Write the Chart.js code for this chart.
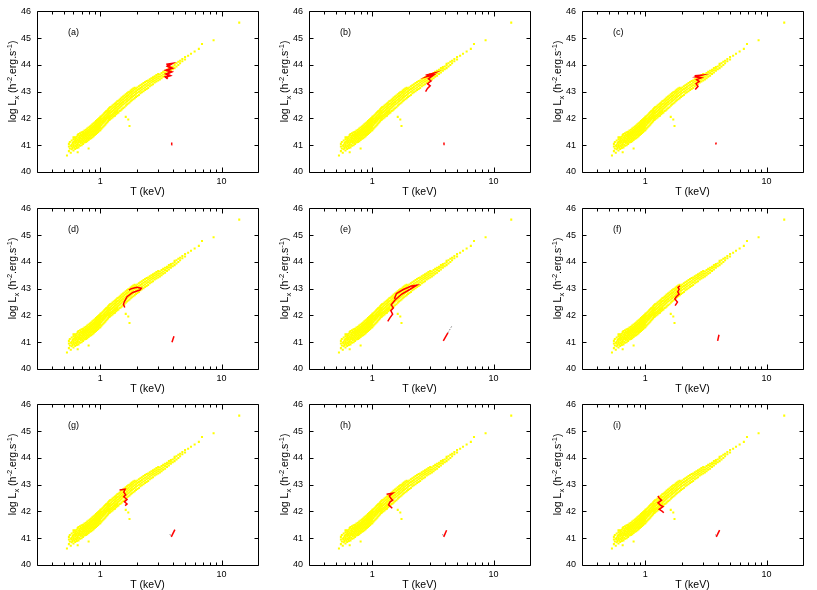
<!DOCTYPE html>
<html><head><meta charset="utf-8">
<script src="https://cdn.jsdelivr.net/npm/chart.js@4.4.1/dist/chart.umd.min.js"></script>
<style>
html,body{margin:0;padding:0;background:#fff;}
body{width:817px;height:590px;position:relative;overflow:hidden;}
.p{position:absolute;width:272px;height:197px;}
</style></head><body>
<script>
// ---- axis ticks ----
const xMajor = [1, 10];
const xMinor = [0.4,0.5,0.6,0.7,0.8,0.9,2,3,4,5,6,7,8,9];
const yTicks = [40,41,42,43,44,45,46];
const panelLabels = ['(a)','(b)','(c)','(d)','(e)','(f)','(g)','(h)','(i)'];

// ---- yellow cloud: [T, logL values...] ----
const cloudRows = [
[0.53,40.62],
[0.55,40.78,40.95,41.05],
[0.56,40.88,41.12],
[0.57,40.72,40.98],
[0.58,40.85,41.02,41.18,40.95],
[0.59,41.08,40.9],
[0.60,40.8,40.97,41.12,41.22,41.04,41.3],
[0.61,40.92,41.15,41.28],
[0.62,40.86,41.0,41.08,41.2,41.3],
[0.63,40.95,41.12,41.25],
[0.64,40.9,41.02,41.18,41.32,41.1],
[0.65,41.05,41.22,41.38,40.98,40.74],
[0.66,40.92,41.1,41.16,41.28,41.42],
[0.67,41.02,41.2,41.34],
[0.68,40.98,41.12,41.25,41.3,41.45],
[0.69,41.08,41.18,41.38],
[0.70,41.0,41.15,41.24,41.32,41.48,41.4],
[0.71,41.1,41.22,41.36],
[0.72,41.05,41.18,41.28,41.35,41.5,41.42],
[0.73,41.14,41.25,41.4],
[0.74,41.1,41.22,41.3,41.38,41.55,41.45],
[0.75,41.18,41.34,41.48],
[0.76,41.12,41.26,41.36,41.42,41.58,41.5],
[0.77,41.2,41.32,41.46],
[0.78,41.15,41.28,41.4,41.46,41.62,41.54],
[0.79,41.24,41.36,41.5],
[0.80,41.2,41.32,41.44,41.5,41.66,41.58,40.88],
[0.81,41.28,41.4,41.55],
[0.82,41.24,41.36,41.48,41.54,41.7,41.62],
[0.83,41.32,41.44,41.58],
[0.84,41.26,41.4,41.52,41.6,41.74,41.66],
[0.85,41.36,41.48,41.62],
[0.86,41.3,41.44,41.56,41.64,41.78,41.7],
[0.87,41.4,41.52,41.66],
[0.88,41.34,41.48,41.6,41.68,41.82,41.74],
[0.89,41.44,41.56,41.7],
[0.90,41.38,41.52,41.64,41.72,41.86,41.78],
[0.91,41.48,41.6,41.74],
[0.92,41.42,41.56,41.68,41.76,41.9,41.82],
[0.93,41.52,41.64,41.78],
[0.94,41.46,41.6,41.72,41.8,41.94,41.86],
[0.95,41.56,41.68,41.82],
[0.96,41.5,41.64,41.76,41.84,41.98,41.9],
[0.97,41.6,41.72,41.86],
[0.98,41.54,41.68,41.8,41.88,42.02,41.94],
[0.99,41.64,41.76,41.9],
[1.00,41.56,41.7,41.82,41.9,42.06,41.98],
[1.02,41.62,41.76,41.86,41.95,42.08,42.0],
[1.04,41.66,41.8,41.9,42.0,42.12,41.86],
[1.06,41.7,41.84,41.94,42.04,42.16,41.9],
[1.08,41.74,41.88,41.98,42.08,42.2,42.02],
[1.10,41.78,41.92,42.02,42.12,42.24,41.96],
[1.12,41.82,41.96,42.06,42.16,42.28,42.0],
[1.14,41.86,42.0,42.1,42.2,42.3,42.04],
[1.16,41.9,42.04,42.14,42.24,42.34,42.08],
[1.18,41.94,42.08,42.18,42.28,42.38,42.0],
[1.20,41.96,42.1,42.2,42.3,42.42,42.04],
[1.23,42.0,42.14,42.24,42.34,42.44,42.08],
[1.26,42.04,42.18,42.28,42.38,42.48,42.12],
[1.29,42.08,42.22,42.32,42.42,42.52,42.16],
[1.32,42.1,42.26,42.36,42.46,42.56,42.2],
[1.35,42.16,42.3,42.4,42.5,42.6,42.24],
[1.38,42.2,42.34,42.44,42.54,42.64,42.28],
[1.41,42.22,42.36,42.46,42.56,42.66],
[1.44,42.28,42.4,42.5,42.6,42.7],
[1.47,42.3,42.44,42.54,42.64,42.74],
[1.50,42.34,42.48,42.58,42.68,42.78],
[1.54,42.38,42.52,42.62,42.72,42.82],
[1.58,42.42,42.56,42.66,42.76,42.86],
[1.62,42.48,42.6,42.7,42.8,42.9,42.06],
[1.66,42.52,42.64,42.74,42.84,42.94],
[1.70,42.56,42.68,42.78,42.88,42.98,41.96],
[1.74,42.6,42.72,42.82,42.92,43.0,41.72],
[1.78,42.64,42.76,42.86,42.96,43.04],
[1.82,42.68,42.8,42.9,43.0,43.08],
[1.87,42.72,42.84,42.94,43.04,43.12],
[1.92,42.76,42.88,42.98,43.08,43.15],
[1.97,42.8,42.92,43.02,43.12],
[2.02,42.84,42.96,43.06,43.16],
[2.08,42.88,43.0,43.1,43.2],
[2.14,42.94,43.04,43.14,43.24],
[2.20,42.98,43.08,43.18,43.28],
[2.27,43.02,43.12,43.22,43.32],
[2.34,43.06,43.16,43.26,43.36],
[2.41,43.1,43.2,43.3,43.4],
[2.48,43.14,43.24,43.34,43.42],
[2.56,43.2,43.3,43.38,43.46],
[2.64,43.24,43.34,43.42,43.5],
[2.72,43.28,43.38,43.46,43.54],
[2.81,43.34,43.42,43.5,43.58],
[2.90,43.38,43.46,43.54,43.62],
[3.00,43.42,43.5,43.58,43.66],
[3.10,43.46,43.56,43.64],
[3.20,43.5,43.6,43.7],
[3.30,43.56,43.64,43.74],
[3.42,43.6,43.7,43.78],
[3.55,43.66,43.76,43.82],
[3.68,43.72,43.8,43.88],
[3.82,43.78,43.86,43.92],
[3.96,43.84,43.94],
[4.10,43.88,43.98,44.04],
[4.25,43.94,44.06],
[4.40,44.0,44.12],
[4.55,44.06,44.16],
[4.75,44.14,44.22],
[5.00,44.2,44.3],
[5.30,44.34],
[5.60,44.42],
[6.00,44.5],
[6.50,44.6],
[6.90,44.78],
[8.60,44.92],
[14.0,45.58]
];

// ---- red trajectories (T, logL) per panel ----
const redA = [[3.5,44.02],[3.9,44.05],[3.6,43.95],[3.9,43.88],[3.5,43.8],[3.85,43.74],[3.5,43.66],[3.75,43.6],[3.45,43.55],[3.6,43.48]];
const redB = [[2.75,43.62],[3.25,43.7],[2.8,43.56],[3.2,43.62],[2.9,43.48],[3.05,43.4],[2.85,43.3],[3.0,43.22],[2.85,43.12],[2.75,43.0]];
const redC = [[2.55,43.6],[2.95,43.62],[2.6,43.55],[2.9,43.52],[2.65,43.45],[2.78,43.38],[2.62,43.3],[2.72,43.2],[2.58,43.08]];
const redD = [[1.59,42.3],[1.55,42.42],[1.58,42.52],[1.66,42.7],[1.85,42.86],[2.12,42.95],[2.18,43.02],[2.0,43.05],[1.8,43.0],[1.72,42.95]];
const redE = [[1.34,41.78],[1.4,41.92],[1.47,42.05],[1.42,42.18],[1.49,42.28],[1.43,42.4],[1.54,42.58],[1.75,42.8],[2.05,42.98],[2.32,43.13],[2.1,43.1],[1.8,42.97],[1.58,42.82],[1.52,42.62]];
const redF = [[1.76,42.37],[1.84,42.5],[1.75,42.62],[1.8,42.7],[1.9,42.8],[1.85,42.88],[1.9,42.98],[1.86,43.05],[1.93,43.11]];
const redG = [[1.44,42.8],[1.6,42.83],[1.56,42.72],[1.62,42.62],[1.56,42.55],[1.66,42.45],[1.58,42.36],[1.66,42.28],[1.6,42.22]];
const redH = [[1.31,42.64],[1.47,42.68],[1.38,42.58],[1.42,42.49],[1.47,42.42],[1.4,42.36],[1.36,42.25],[1.46,42.12]];
const redI = [[1.27,42.58],[1.3,42.5],[1.36,42.42],[1.27,42.32],[1.33,42.24],[1.4,42.18],[1.3,42.08],[1.38,42.0],[1.42,41.95]];
// small tracks near (4, 41)
const tipA = [[3.85,41.02],[3.88,41.1]];
const tipB = [[3.86,41.03],[3.9,41.1]];
const tipC = [[3.8,41.03],[3.85,41.1]];
const tipD = [[3.9,41.0],[4.05,41.22]];
const tipE = [[3.85,41.05],[4.2,41.35]];
const tipF = [[3.95,41.05],[4.05,41.28]];
const tipG = [[3.85,41.05],[4.12,41.32]];
const tipH = [[3.88,41.05],[4.1,41.3]];
const tipI = [[3.85,41.05],[4.1,41.3]];
const grayE = [[4.2,41.35],[4.55,41.62]];
const grayG = [[3.75,41.15],[3.85,41.05]];
const grayH = [[3.8,41.15],[3.88,41.05]];
const grayI = [[3.8,41.14],[3.85,41.08]];

const reds = [redA,redB,redC,redD,redE,redF,redG,redH,redI];
const tips = [tipA,tipB,tipC,tipD,tipE,tipF,tipG,tipH,tipI];
const grays = [null,null,null,null,grayE,null,grayG,grayH,grayI];

const FONT = "'Liberation Sans', Arial, Helvetica, sans-serif";
const colX = [0, 272, 545];
const rowY = [0, 197, 393];

const cloud = [];
cloudRows.forEach(r => { for (let i = 1; i < r.length; i++) cloud.push({x: r[0], y: r[i]}); });
const toPts = a => a.map(p => ({x: p[0], y: p[1]}));

const framePlugin = {
  id: 'gframe',
  afterDraw(c, args, opts) {
    const {ctx, chartArea: a, scales: {x, y}} = c;
    ctx.save();
    ctx.strokeStyle = '#000';
    ctx.lineWidth = 1;
    const L = Math.round(a.left) + 0.5, R = Math.round(a.right) + 0.5;
    const T = Math.round(a.top) + 0.5, B = Math.round(a.bottom) + 0.5;
    ctx.beginPath();
    ctx.rect(L, T, R - L, B - T);
    yTicks.forEach(v => {
      const py = Math.round(y.getPixelForValue(v)) + 0.5;
      ctx.moveTo(L, py); ctx.lineTo(L + 4, py);
      ctx.moveTo(R, py); ctx.lineTo(R - 4, py);
    });
    xMajor.forEach(v => {
      const px = Math.round(x.getPixelForValue(v)) + 0.5;
      ctx.moveTo(px, B); ctx.lineTo(px, B - 5);
      ctx.moveTo(px, T); ctx.lineTo(px, T + 5);
    });
    xMinor.forEach(v => {
      const px = Math.round(x.getPixelForValue(v)) + 0.5;
      ctx.moveTo(px, B); ctx.lineTo(px, B - 3);
      ctx.moveTo(px, T); ctx.lineTo(px, T + 3);
    });
    ctx.stroke();

    // panel label
    ctx.fillStyle = '#000';
    ctx.font = '9px ' + FONT;
    ctx.textBaseline = 'middle';
    ctx.textAlign = 'left';
    ctx.fillText(opts.label, x.getPixelForValue(0.54), y.getPixelForValue(45.2));

    // y-axis title with sub/superscripts
    const big = '10.5px ' + FONT, small = '7.5px ' + FONT;
    const segs = [
      ['log L', big, 0], ['x', small, 2.5], [' (h', big, 0], ['-2', small, -4],
      ['.erg.s', big, 0], ['-1', small, -4], [')', big, 0]
    ];
    let total = 0;
    segs.forEach(s => { ctx.font = s[1]; total += ctx.measureText(s[0]).width; });
    ctx.translate(16, a.top + 70);
    ctx.rotate(-Math.PI / 2);
    ctx.textBaseline = 'alphabetic';
    let u = -total / 2;
    segs.forEach(s => { ctx.font = s[1]; ctx.fillText(s[0], u, s[2]); u += ctx.measureText(s[0]).width; });
    ctx.restore();
  }
};

for (let i = 0; i < 9; i++) {
  const d = document.createElement('div');
  d.className = 'p';
  d.style.left = colX[i % 3] + 'px';
  d.style.top = rowY[Math.floor(i / 3)] + 'px';
  const cv = document.createElement('canvas');
  cv.width = 272; cv.height = 197;
  cv.style.width = '272px'; cv.style.height = '197px';
  d.appendChild(cv);
  document.body.appendChild(d);

  const datasets = [{
    data: cloud, backgroundColor: '#ffff00', borderWidth: 0,
    pointStyle: 'rect', pointRadius: 1.45, pointHoverRadius: 1.45, order: 3
  }, {
    data: toPts(reds[i]), showLine: true, borderColor: '#ff0000', borderWidth: i === 0 ? 2 : 1.5,
    pointRadius: 0, fill: false, order: 1
  }, {
    data: toPts(tips[i]), showLine: true, borderColor: '#ff0000', borderWidth: 1.5,
    pointRadius: 0, fill: false, order: 1
  }];
  if (grays[i]) datasets.push({
    data: toPts(grays[i]), showLine: true, borderColor: '#808080', borderWidth: 1,
    borderDash: [1.5, 1.5], pointRadius: 0, fill: false, order: 2
  });

  new Chart(cv, {
    type: 'scatter',
    data: {datasets},
    options: {
      responsive: false, animation: false, devicePixelRatio: 1,
      layout: {padding: {top: 11, right: 14, left: 0, bottom: 0}},
      plugins: {legend: {display: false}, tooltip: {enabled: false}, gframe: {label: panelLabels[i]}},
      events: [],
      scales: {
        x: {
          type: 'logarithmic', min: 0.3, max: 20,
          grid: {display: false, drawTicks: false}, border: {display: false},
          afterBuildTicks: s => { s.ticks = xMajor.map(v => ({value: v})); },
          ticks: {color: '#000', font: {size: 9, family: FONT}, padding: 4, maxRotation: 0, autoSkip: false,
                  callback: v => String(v)},
          title: {display: true, text: 'T (keV)', color: '#000', font: {size: 10.5, family: FONT, lineHeight: 1}, padding: 0},
          afterFit: s => { s.height = 25; }
        },
        y: {
          min: 40, max: 46,
          grid: {display: false, drawTicks: false}, border: {display: false},
          afterBuildTicks: s => { s.ticks = yTicks.map(v => ({value: v})); },
          ticks: {color: '#000', font: {size: 9, family: FONT}, padding: 6, callback: v => String(v)},
          afterFit: s => { s.width = 37; }
        }
      }
    },
    plugins: [framePlugin]
  });
}
</script>
</body></html>
